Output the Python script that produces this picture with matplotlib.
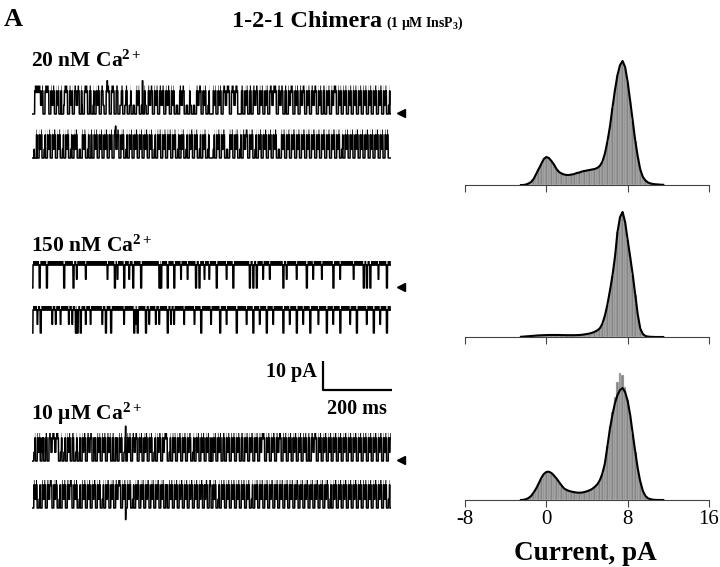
import numpy as np
import matplotlib
matplotlib.use('Agg')
import matplotlib.pyplot as plt

plt.rcParams['font.family'] = ['Liberation Serif', 'DejaVu Serif']
plt.rcParams['mathtext.fontset'] = 'custom'
plt.rcParams['mathtext.rm'] = 'Liberation Serif:bold'
plt.rcParams['mathtext.it'] = 'Liberation Serif:bold:italic'
plt.rcParams['mathtext.bf'] = 'Liberation Serif:bold'
plt.rcParams['axes.unicode_minus'] = False

# ---------------------------------------------------------------- data
condition_labels = ['20 nM Ca$^{\\mathrm{2+}}$', '150 nM Ca$^{\\mathrm{2+}}$',
                    '10 \u03bcM Ca$^{\\mathrm{2+}}$']
open_level = 8.0          # pA, open-channel current
partial_level = 3.0       # pA, level reached by brief partially resolved closures
trace_duration = 1040     # ms shown per sweep

# closure event start times (ms), read from the sweeps (2 sweeps / condition)
deep_20nM_a = [0, 32, 49, 65, 78, 86, 103, 117, 137, 146, 161, 171, 180, 195, 209, 224, 238, 249,
               263, 276, 287, 297, 311, 320, 331, 349, 364, 382, 398, 412, 422, 441, 451, 462, 471,
               490, 504, 514, 519, 533, 548, 572, 596, 601, 611, 625, 635, 654, 669, 683, 708, 727,
               737, 756, 771, 790, 804, 824, 838, 848, 862, 882, 896, 911, 925, 940, 954, 969, 983,
               998, 1013, 1027, 1037]
part_20nM_a = [25, 57, 72, 90, 112, 128, 145, 175, 187, 206, 225, 240, 255, 268, 282, 293, 305, 316,
               328, 340, 357, 374, 390, 406, 418, 432, 447, 458, 467, 480, 497, 509, 527, 541, 560,
               585, 618, 645, 662, 676, 695, 718, 745, 764, 780, 797, 814, 831, 855, 870, 890, 904,
               918, 933, 947, 962, 976, 990, 1005, 1020, 1032]
deep_20nM_b = [0, 7, 15, 29, 39, 53, 68, 82, 92, 106, 116, 131, 140, 155, 165, 174, 189, 203, 218,
               232, 252, 266, 276, 290, 305, 319, 334, 348, 358, 373, 387, 402, 416, 426, 440, 450,
               465, 479, 489, 503, 513, 519, 529, 543, 558, 567, 582, 596, 606, 625, 640, 650, 664,
               679, 693, 708, 717, 732, 746, 761, 775, 790, 804, 819, 833, 848, 862, 877, 891, 901,
               916, 930, 945, 959, 974, 988, 1003, 1017, 1032, 1038]
part_20nM_b = [4, 22, 34, 46, 60, 75, 87, 99, 111, 123, 136, 148, 160, 182, 196, 210, 225, 243, 259,
               271, 283, 297, 312, 326, 341, 353, 366, 380, 395, 409, 421, 433, 445, 457, 472, 484,
               496, 508, 524, 536, 550, 563, 575, 589, 601, 615, 632, 645, 657, 671, 686, 700, 713,
               725, 739, 753, 768, 782, 797, 811, 826, 840, 855, 869, 884, 896, 909, 923, 937, 952,
               966, 981, 995, 1010, 1025]

deep_150nM_a = [0, 21, 42, 92, 119, 239, 266, 292, 315, 368, 373, 392, 411, 474, 484, 534, 582,
                630, 640, 650, 727, 795, 872, 960, 969, 979, 1027]
part_150nM_a = [129, 155, 218, 247, 281, 431, 450, 499, 513, 563, 669, 688, 737, 766, 814, 839,
                892, 931, 1003]
deep_150nM_b = [0, 24, 126, 131, 140, 213, 228, 295, 305, 329, 392, 489, 544, 592, 640, 679, 727,
                766, 805, 853, 892, 940, 989, 1027]
part_150nM_b = [15, 58, 68, 82, 106, 116, 155, 169, 203, 266, 300, 339, 358, 368, 402, 411, 440,
                470, 518, 563, 621, 659, 698, 746, 785, 829, 872, 921, 969, 1008]

deep_10uM_a = [0, 10, 24, 34, 44, 77, 87, 97, 111, 121, 131, 140, 155, 174, 184, 198, 213, 228,
               237, 247, 261, 271, 286, 305, 319, 334, 348, 358, 373, 392, 402, 416, 431, 445, 460,
               470, 484, 499, 513, 519, 533, 548, 558, 572, 587, 601, 611, 625, 640, 654, 674, 688,
               703, 722, 737, 751, 766, 780, 795, 804, 824, 838, 853, 867, 882, 896, 911, 925, 940,
               954, 969, 983, 998, 1013, 1027]
part_10uM_a = [5, 18, 30, 55, 66, 82, 92, 104, 126, 135, 147, 165, 180, 192, 206, 222, 243, 255,
               266, 279, 296, 312, 326, 341, 353, 365, 380, 397, 410, 423, 438, 452, 465, 477, 492,
               506, 526, 541, 565, 580, 594, 618, 632, 647, 662, 681, 695, 712, 730, 744, 758, 773,
               788, 814, 831, 845, 860, 874, 889, 903, 918, 932, 947, 962, 976, 990, 1005, 1020, 1034]
deep_10uM_b = [0, 15, 24, 39, 58, 73, 82, 97, 116, 131, 140, 155, 169, 184, 198, 208, 223, 237,
               257, 271, 286, 295, 310, 324, 339, 353, 368, 382, 392, 407, 421, 436, 450, 465, 479,
               494, 508, 519, 533, 543, 558, 572, 587, 601, 616, 630, 640, 654, 669, 683, 698, 712,
               727, 741, 756, 771, 785, 800, 814, 829, 843, 858, 867, 882, 896, 911, 925, 940, 954,
               969, 983, 998, 1013, 1027, 1037]
part_10uM_b = [8, 20, 32, 48, 65, 78, 90, 106, 124, 136, 148, 162, 176, 191, 203, 215, 230, 246,
               264, 279, 291, 302, 317, 331, 346, 360, 375, 388, 400, 414, 428, 443, 457, 472, 486,
               500, 526, 538, 551, 565, 580, 594, 609, 623, 635, 647, 662, 676, 690, 705, 720, 734,
               749, 763, 778, 792, 807, 821, 836, 850, 862, 874, 889, 903, 918, 932, 947, 962, 976,
               990, 1005, 1020, 1032]

# long closures (start ms, duration ms) and large noise excursions (ms, pA)
long_20nM_a = [(0, 8), (32, 6)]
spikes_20nM_a = [(218, 11.5), (320, 11.5)]
spikes_20nM_b = [(242, 11.0)]
spikes_10uM_a = [(271, 12.0)]
spikes_10uM_b = [(271, -4.0)]

sweeps = [
    (deep_20nM_a, part_20nM_a, long_20nM_a, spikes_20nM_a),
    (deep_20nM_b, part_20nM_b, [], spikes_20nM_b),
    (deep_150nM_a, part_150nM_a, [], []),
    (deep_150nM_b, part_150nM_b, [], []),
    (deep_10uM_a, part_10uM_a, [], spikes_10uM_a),
    (deep_10uM_b, part_10uM_b, [], spikes_10uM_b),
]

# amplitude histograms (bin centres, pA) and counts (a.u.)
hist_bins = np.arange(-2.5, 11.51, 0.25)
counts_20nM = [0, 0, 0.5, 1.5, 3, 6, 11, 16, 21, 26, 28, 27, 24, 20.5, 16, 13, 11.5, 10.5, 10, 10,
               10.5, 11, 12, 12.5, 13.5, 14, 14.5, 15, 15.5, 16, 17, 19, 23, 31, 43, 58, 77, 95,
               110, 120, 124, 118, 103, 84, 64, 44, 28, 15, 8, 4.5, 2.5, 1.5, 1, 0.7, 0.5, 0.3, 0.2]
counts_150nM = [0.2, 0.4, 0.6, 0.8, 1.0, 1.2, 1.4, 1.6, 1.7, 1.8, 1.9, 2, 2, 2, 2, 2, 1.9, 1.9,
                1.8, 1.8, 1.8, 1.8, 1.9, 2, 2.2, 2.6, 3, 3.5, 4.2, 5.2, 6.5, 8.5, 13, 21, 32, 46,
                61, 80, 105, 120, 125, 115, 97, 80, 62, 42, 22, 8, 3, 1, 0.4, 0.2, 0.1, 0, 0, 0, 0]
counts_10uM = [0, 0.2, 0.8, 2, 4, 7.5, 11.5, 16.5, 22, 26, 28, 28.3, 27, 24.5, 21.5, 18, 14.5,
               11.5, 10, 9, 8.3, 7.8, 7.4, 7.3, 7.4, 8, 8.7, 9.7, 11, 13, 15.5, 19.5, 26, 36, 54,
               74, 88, 103, 118, 127, 125, 113, 100, 84, 66, 48, 31, 18, 9, 4, 1.7, 0.8, 0.3, 0.1,
               0, 0, 0]
fit_20nM = counts_20nM
fit_150nM = counts_150nM
fit_10uM = [0, 0.2, 0.8, 2, 4, 7.5, 11.5, 16.5, 22, 26, 28, 28.3, 27, 24.5, 21.5, 18, 14.5, 11.5,
            10, 9, 8.3, 7.8, 7.4, 7.3, 7.4, 8, 8.7, 9.7, 11, 13, 15.5, 19.5, 26, 36, 53, 71, 85,
            97, 105, 110, 112, 108, 99, 85, 66, 48, 31, 18, 9, 4, 1.7, 0.8, 0.3, 0.1, 0, 0, 0]
hist_ticks = [-8, 0, 8, 16]
hist_ticklabels = ['-8', '0', '8', '16']

# ---------------------------------------------------------------- figure
W, H = 720, 567
fig = plt.figure(figsize=(7.2, 5.67), dpi=100)


def fx(px):
    return px / W


def fy(py):
    return 1 - py / H


# traces axes: x in ms, y in pA (stacked with offsets); 1 pA = 2.9 px
tr_left, tr_right, tr_top, tr_bot = 32, 391, 60, 525
ax_tr = fig.add_axes([fx(tr_left), fy(tr_bot), fx(tr_right - tr_left), (tr_bot - tr_top) / H])
px_per_pA = 2.9
ax_tr.set_xlim(0, trace_duration)
ax_tr.set_ylim(-(tr_bot - tr_top) / px_per_pA, 0)
ax_tr.axis('off')

closed_px = [114, 158, 288, 333, 461, 508]
deep_dur = [6.0, 6.0, 3.0, 3.0, 5.5, 5.5]
part_dur = [4.0, 4.0, 2.0, 2.0, 3.5, 3.5]
band_lw = [5.5, 5.5, 3.4, 3.4, 4.8, 4.8]
t = np.arange(0, trace_duration, 0.5)
for (deep, part, longs, spikes), cpx, dd, pd, blw in zip(sweeps, closed_px, deep_dur, part_dur,
                                                         band_lw):
    y = np.full_like(t, open_level)
    for t0 in part:
        y[(t >= t0) & (t < t0 + pd)] = partial_level
    for t0 in deep:
        y[(t >= t0) & (t < t0 + dd)] = 0.0
    for t0, d in longs:
        y[(t >= t0) & (t < t0 + d)] = 0.0
    for t0, lev in spikes:
        y[(t >= t0) & (t < t0 + 1.0)] = lev
    off = -(cpx - tr_top) / px_per_pA
    ax_tr.plot(t, y + off, color='black', lw=1.1)
    # open-channel noise band
    ax_tr.plot(t, np.where(y == open_level, open_level + 0.5, np.nan) + off, color='black',
               lw=blw, solid_capstyle='butt')

# closed-level arrowheads (first sweep of each condition)
for cpx in closed_px[0::2]:
    off = -(cpx - tr_top) / px_per_pA
    ax_tr.plot([1070], [off + 0.5], marker='<', color='black', markersize=6, clip_on=False)

# scale bar: 10 pA, 200 ms
sb_x0 = 842
sb_y0 = -(390 - tr_top) / px_per_pA
ax_tr.plot([sb_x0, sb_x0, sb_x0 + 200], [sb_y0 + 10, sb_y0, sb_y0], color='black', lw=1.6,
           solid_capstyle='butt', clip_on=False)
fig.text(fx(317), fy(377), '10 pA', ha='right', va='baseline', fontsize=14.5, fontweight='bold')
fig.text(fx(357), fy(414), '200 ms', ha='center', va='baseline', fontsize=14.5,
         fontweight='bold')

# condition labels
for lab, base in zip(condition_labels, [67, 252, 420]):
    fig.text(fx(31), fy(base), lab, ha='left', va='baseline', fontsize=15.5, fontweight='bold')

# histogram axes
hist_left, hist_right = 465, 709
baselines = [185, 337, 500]
hist_sets = [(counts_20nM, fit_20nM), (counts_150nM, fit_150nM), (counts_10uM, fit_10uM)]
for i, (base, (cnt, fit)) in enumerate(zip(baselines, hist_sets)):
    ax = fig.add_axes([fx(hist_left), fy(base), fx(hist_right - hist_left), 130 / H])
    ax.bar(hist_bins, cnt, width=0.25, color='#858585', edgecolor='#d8d8d8', linewidth=0.3)
    ax.plot(hist_bins, fit, color='black', lw=1.5)
    ax.set_xlim(-8, 16)
    ax.set_ylim(0, 130)
    for s in ['top', 'left', 'right']:
        ax.spines[s].set_visible(False)
    ax.spines['bottom'].set_color('#444444')
    ax.spines['bottom'].set_linewidth(0.8)
    ax.set_yticks([])
    ax.set_xticks(hist_ticks)
    ax.tick_params(axis='x', direction='out', length=5, width=0.8, color='#444444', pad=2)
    ax.patch.set_alpha(0)
    if i == 2:
        ax.set_xticklabels(hist_ticklabels, fontsize=15)
    else:
        ax.set_xticklabels([])

fig.text(fx(585), fy(560), 'Current, pA', ha='center', va='baseline', fontsize=19.5,
         fontweight='bold')

# titles
fig.text(fx(4), fy(26), 'A', ha='left', va='baseline', fontsize=19, fontweight='bold')
fig.text(fx(232), fy(27), '1-2-1 Chimera', ha='left', va='baseline', fontsize=17.5,
         fontweight='bold')
fig.text(fx(386), fy(27), '(1 \u03bcM InsP$_{\\mathrm{3}}$)', ha='left', va='baseline',
         fontsize=10, fontweight='bold')

fig.savefig('out.png', dpi=100)
